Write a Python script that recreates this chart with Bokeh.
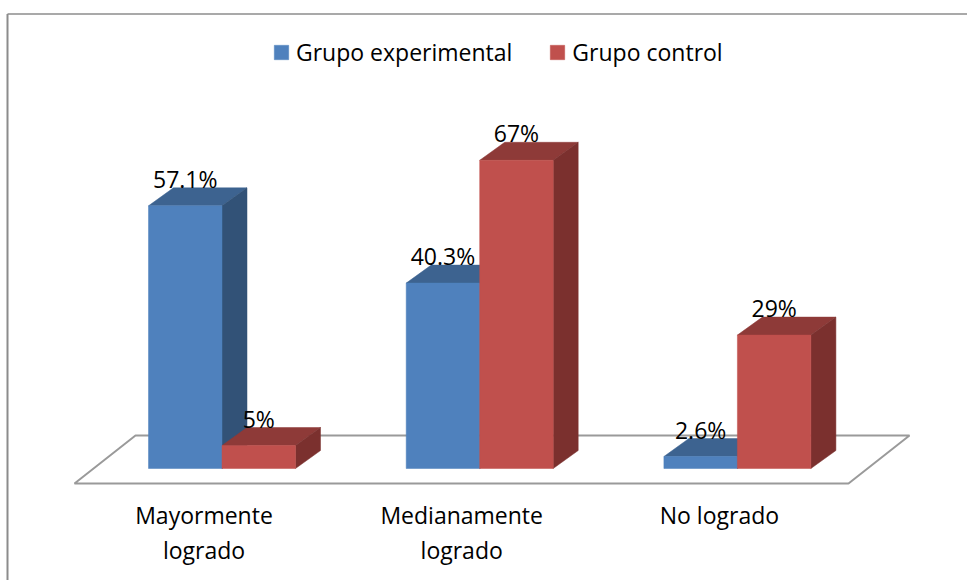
from bokeh.core.properties import value
from bokeh.embed import file_html
from bokeh.models import ColumnDataSource, Legend, LegendItem, Range1d
from bokeh.plotting import figure
from bokeh.resources import INLINE

# Chart data
categories = ["Mayormente\nlogrado", "Medianamente\nlogrado", "No logrado"]
series_names = ["Grupo experimental", "Grupo control"]
experimental = [57.1, 40.3, 2.6]
control = [5, 67, 29]
experimental_labels = ["57.1%", "40.3%", "2.6%"]
control_labels = ["5%", "67%", "29%"]

# Palette: front, top and side faces of each series
BLUE = ("#4F81BD", "#3D6390", "#325277")
RED = ("#C0504D", "#8E3A38", "#7B302E")
FONT = "Open Sans"
TEXT_SIZE = "23px"
TEXT_COLOR = "#000000"

# Layout, in axis units (x: one unit per category, y: percent)
X_PER_PX = 1 / 257.7
Y_PER_PX = 1 / 4.6
BAR_W = 73.5 * X_PER_PX
DEPTH_X = 25 * X_PER_PX
DEPTH_Y = 18 * Y_PER_PX

p = figure(
    width=967, height=580, output_backend="svg", toolbar_location=None,
    x_range=Range1d(-221.5 * X_PER_PX, 745.5 * X_PER_PX),
    y_range=Range1d(-112 * Y_PER_PX, 468 * Y_PER_PX),
    min_border=0, outline_line_color=None, background_fill_color="white",
)
p.axis.visible = False
p.grid.visible = False

# Chart-area border along the top and left
left, top = (7 - 221.5) * X_PER_PX, (468 - 13.5) * Y_PER_PX
p.line([left, left], [-112 * Y_PER_PX, top], line_color="#8C8C8C", line_width=2)
p.line([left, 745.5 * X_PER_PX], [top, top], line_color="#8C8C8C", line_width=1.5)

# Perspective floor
floor_x = [(v - 221.5) * X_PER_PX for v in (74, 135, 909, 848)]
floor_y = [(468 - v) * Y_PER_PX for v in (483, 435, 435, 483)]
p.patch(floor_x, floor_y, fill_color="white", line_color="#9A9A9A", line_width=2)


def draw_series(i, values, offset, colours):
    """Draw the three visible faces of one bar."""
    v = values[i]
    x0 = i + offset
    x1 = x0 + BAR_W
    p.patch([x0, x0 + DEPTH_X, x1 + DEPTH_X, x1], [v, v + DEPTH_Y, v + DEPTH_Y, v],
            fill_color=colours[1], line_color=colours[1], line_width=0.5)
    p.patch([x1, x1 + DEPTH_X, x1 + DEPTH_X, x1], [v, v + DEPTH_Y, DEPTH_Y, 0],
            fill_color=colours[2], line_color=colours[2], line_width=0.5)
    return p.quad(left=[x0], right=[x1], bottom=[0], top=[v], fill_color=colours[0],
                  line_color=colours[0], line_width=0.5)


legend_renderers = []
for i in range(len(categories)):
    blue_front = draw_series(i, experimental, -BAR_W, BLUE)
    red_front = draw_series(i, control, 0, RED)
    if i == 0:
        legend_renderers = [blue_front, red_front]

# Value labels above each bar
for values, labels, offset in (
    (experimental, experimental_labels, -BAR_W / 2),
    (control, control_labels, BAR_W / 2),
):
    src = ColumnDataSource(dict(
        x=[i + offset for i in range(len(values))], y=values, t=labels,
    ))
    p.text("x", "y", text="t", source=src, y_offset=-27, text_align="center",
           text_baseline="middle", text_font=value(FONT), text_font_size=TEXT_SIZE,
           text_color=TEXT_COLOR)

# Category labels under the floor
cat_src = ColumnDataSource(dict(
    x=[i - 18 * X_PER_PX for i in range(len(categories))],
    y=[-30.5 * Y_PER_PX] * len(categories),
    t=categories,
))
p.text("x", "y", text="t", source=cat_src, text_align="center", text_baseline="top",
       text_font=value(FONT), text_font_size=TEXT_SIZE, text_line_height=1.08,
       text_color=TEXT_COLOR)

legend = Legend(
    items=[LegendItem(label=name, renderers=[r])
           for name, r in zip(series_names, legend_renderers)],
    orientation="horizontal", location=(272, 512), glyph_width=18, glyph_height=18,
    label_standoff=6, spacing=36, border_line_color=None, background_fill_alpha=0,
    label_text_font=FONT, label_text_font_size=TEXT_SIZE, label_text_color=TEXT_COLOR,
    padding=10, margin=0,
)
p.add_layout(legend, "center")

open("out.html", "w").write(file_html(p, INLINE))
